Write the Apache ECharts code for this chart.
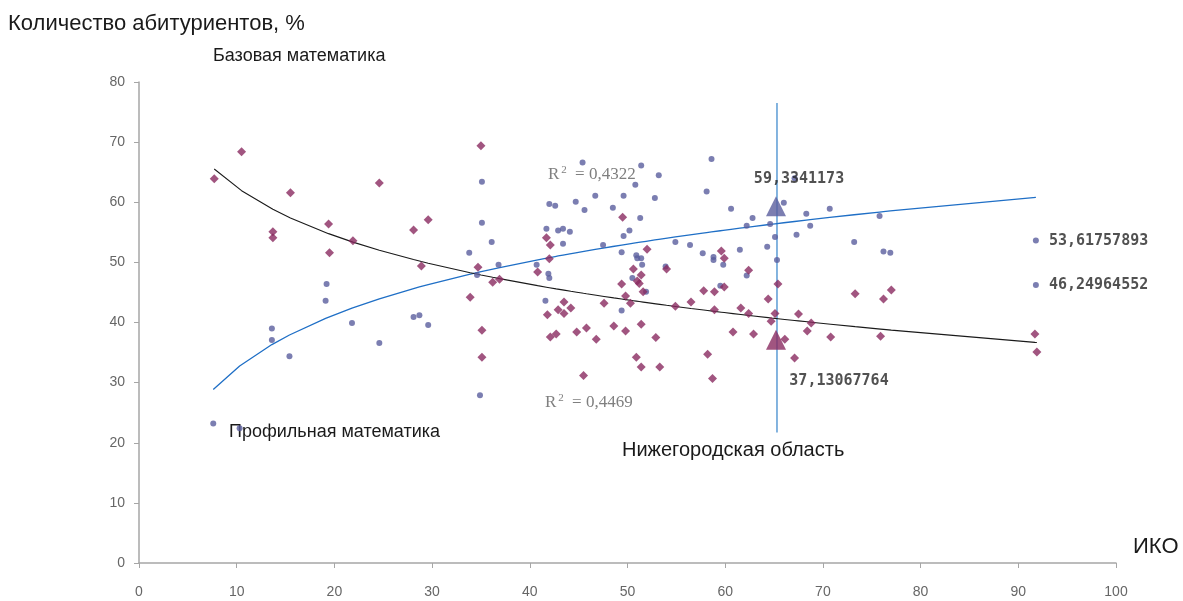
<!DOCTYPE html>
<html>
<head>
<meta charset="utf-8">
<script src="https://cdn.jsdelivr.net/npm/echarts@6/dist/echarts.min.js"></script>
<style>
  html, body { margin: 0; padding: 0; background: #fff; }
  #main { width: 1183px; height: 601px; }
</style>
</head>
<body>
<div id="main"></div>
<script>
// Профильная математика: [ИКО, %]
const profilePoints = [
  [7.6, 23.2], [10.3, 22.4], [13.6, 39.0], [13.6, 37.1], [15.4, 34.4], [19.2, 46.4],
  [19.1, 43.6], [21.8, 39.9], [24.6, 36.6], [28.1, 40.9], [28.7, 41.2], [29.6, 39.6],
  [33.8, 51.6], [35.1, 63.4], [35.1, 56.6], [34.9, 27.9], [36.1, 53.4], [36.8, 49.6],
  [34.6, 47.9], [45.4, 66.6], [46.7, 61.1], [44.7, 60.1], [45.6, 58.7], [42.0, 59.7],
  [42.6, 59.4], [41.7, 55.6], [42.9, 55.3], [43.4, 55.6], [44.1, 55.1], [43.4, 53.1],
  [40.7, 49.6], [41.9, 48.1], [42.0, 47.4], [41.6, 43.6], [51.4, 66.1], [53.2, 64.5],
  [58.6, 67.2], [50.8, 62.9], [58.1, 61.8], [49.6, 61.1], [52.8, 60.7], [48.5, 59.1],
  [51.3, 57.4], [60.6, 58.9], [62.8, 57.4], [62.2, 56.1], [64.6, 56.4], [66.0, 59.9],
  [67.1, 64.0], [68.3, 58.1], [70.7, 58.9], [68.7, 56.1], [67.3, 54.6], [65.1, 54.2],
  [64.3, 52.6], [65.3, 50.4], [47.5, 52.9], [49.6, 54.4], [50.2, 55.3], [49.4, 51.7],
  [50.9, 51.2], [51.0, 50.7], [51.4, 50.7], [51.5, 49.6], [50.5, 47.4], [51.9, 45.1],
  [49.4, 42.0], [54.9, 53.4], [56.4, 52.9], [57.7, 51.5], [58.8, 50.9], [58.8, 50.4],
  [59.8, 49.6], [61.5, 52.1], [62.2, 47.8], [53.9, 49.3], [59.5, 46.1], [73.2, 53.4],
  [75.8, 57.7], [76.2, 51.8], [76.9, 51.6]
];
// подписанные точки профильной математики
const profileTagged = [[91.8, 53.61757893], [91.8, 46.24964552]];

// Базовая математика: [ИКО, %]
const basePoints = [
  [7.7, 63.9], [10.5, 68.4], [13.7, 55.1], [13.7, 54.1], [15.5, 61.6], [19.4, 56.4],
  [19.5, 51.6], [21.9, 53.6], [24.6, 63.2], [28.1, 55.4], [29.6, 57.1], [28.9, 49.4],
  [33.9, 44.2], [34.7, 49.2], [35.0, 69.4], [35.1, 38.7], [35.1, 34.2], [36.2, 46.7],
  [36.9, 47.2], [40.8, 48.4], [41.7, 54.1], [42.1, 52.9], [42.0, 50.6], [41.8, 41.3],
  [42.9, 42.1], [43.5, 43.4], [43.5, 41.5], [44.2, 42.4], [42.1, 37.6], [42.7, 38.1],
  [44.8, 38.4], [45.8, 39.1], [46.8, 37.2], [45.5, 31.2], [47.6, 43.2], [48.6, 39.4],
  [49.5, 57.5], [49.4, 46.4], [49.8, 44.4], [49.8, 38.6], [50.3, 43.2], [50.6, 48.9],
  [51.4, 47.9], [51.0, 46.9], [51.2, 46.5], [51.6, 45.1], [51.4, 39.7], [50.9, 34.2],
  [51.4, 32.6], [52.0, 52.2], [52.9, 37.5], [53.3, 32.6], [54.0, 48.9], [54.9, 42.7],
  [56.5, 43.4], [57.8, 45.3], [58.9, 45.1], [58.9, 42.1], [58.2, 34.7], [58.7, 30.7],
  [59.6, 51.9], [59.9, 50.7], [59.9, 45.9], [60.8, 38.4], [61.6, 42.4], [62.4, 41.5],
  [62.4, 48.7], [62.9, 38.1], [64.4, 43.9], [65.1, 41.5], [64.7, 40.2], [65.4, 46.4],
  [66.1, 37.2], [67.5, 41.4], [68.8, 39.9], [68.4, 38.6], [70.8, 37.6], [67.1, 34.1],
  [73.3, 44.8], [76.2, 43.9], [77.0, 45.4], [75.9, 37.7], [91.7, 38.1], [91.9, 35.1]
];

// Нижегородская область
const regionIko = 65.2;
const regionProfile = 59.3341173;
const regionBase = 37.13067764;
const regionLineRange = [21.7, 76.5];

const r2Profile = '0,4322';
const r2Base = '0,4469';

const xTicks = { min: 0, max: 100, interval: 10 };
const yTicks = { min: 0, max: 80, interval: 10 };

// логарифмическая линия тренда по методу наименьших квадратов
function logFit(pts) {
  let n = pts.length, sx = 0, sy = 0, sxx = 0, sxy = 0;
  pts.forEach(p => {
    const lx = Math.log(p[0]);
    sx += lx; sy += p[1]; sxx += lx * lx; sxy += lx * p[1];
  });
  const a = (n * sxy - sx * sy) / (n * sxx - sx * sx);
  const b = (sy - a * sx) / n;
  const xs = pts.map(p => p[0]).sort((u, v) => u - v);
  return xs.map(x => [x, a * Math.log(x) + b]);
}

const allProfile = profilePoints.concat(profileTagged);
const profileTrend = logFit(allProfile);
const baseTrend = logFit(basePoints);

const commaFmt = v => String(v).replace('.', ',');
const numFont = { fontFamily: 'DejaVu Sans Mono', fontWeight: 'bold', fontSize: 15, color: '#262626' };
const r2Rich = {
  a: { fontSize: 17, fontFamily: 'Liberation Serif', fill: '#7f7f7f', color: '#7f7f7f' },
  s: { fontSize: 11, fontFamily: 'Liberation Serif', fill: '#7f7f7f', color: '#7f7f7f', verticalAlign: 'top', padding: [0, 4, 9, 2] }
};

const chart = echarts.init(document.getElementById('main'));
const option = {
  animation: false,
  backgroundColor: '#fff',
  grid: { left: 139, top: 82, width: 977, height: 481, containLabel: false },
  xAxis: {
    type: 'value', min: xTicks.min, max: xTicks.max, interval: xTicks.interval,
    splitLine: { show: false },
    axisLine: { show: true, lineStyle: { color: '#a6a6a6', width: 1.5 } },
    axisTick: { show: true, length: 5, lineStyle: { color: '#a6a6a6' } },
    axisLabel: { color: '#666', fontSize: 14, fontFamily: 'Liberation Sans', margin: 22 }
  },
  yAxis: {
    type: 'value', min: yTicks.min, max: yTicks.max, interval: yTicks.interval,
    splitLine: { show: false },
    axisLine: { show: true, lineStyle: { color: '#a6a6a6', width: 1.5 } },
    axisTick: { show: true, length: 5, lineStyle: { color: '#a6a6a6' } },
    axisLabel: { color: '#666', fontSize: 14, fontFamily: 'Liberation Sans', margin: 14 }
  },
  series: [
    {
      type: 'line', data: regionLineRange.map(v => [regionIko + 0.1, v]),
      showSymbol: false, lineStyle: { color: '#5b9bd5', width: 1.5 }, z: 1
    },
    {
      type: 'line', data: profileTrend, showSymbol: false,
      lineStyle: { color: '#1f6fc6', width: 1.3 }, z: 2
    },
    {
      type: 'line', data: baseTrend, showSymbol: false,
      lineStyle: { color: '#1a1a1a', width: 1.1 }, z: 2
    },
    {
      type: 'scatter', symbol: 'circle', symbolSize: 6,
      itemStyle: { color: '#5a5e9e' }, z: 3,
      data: profilePoints.map(p => p).concat(profileTagged.map(p => ({
        value: p,
        label: { show: true, position: 'right', distance: 10, formatter: () => commaFmt(p[1]), ...numFont }
      })))
    },
    {
      type: 'scatter', symbol: 'diamond', symbolSize: 9,
      itemStyle: { color: '#8a2a60' }, z: 3, data: basePoints
    },
    {
      type: 'scatter', symbol: 'triangle', symbolSize: [20, 20], z: 4,
      data: [
        {
          value: [regionIko, regionProfile], itemStyle: { color: '#5a5e9e' },
          label: { show: true, position: 'top', distance: 10, offset: [23, 0],
            formatter: () => commaFmt(regionProfile), ...numFont }
        },
        {
          value: [regionIko, regionBase], itemStyle: { color: '#8a2a60' },
          label: { show: true, position: 'bottom', distance: 24, offset: [63, 0],
            formatter: () => commaFmt(regionBase), ...numFont }
        }
      ]
    }
  ],
  graphic: [
    { type: 'text', left: 8, top: 13, style: { text: 'Количество абитуриентов, %', fontSize: 22, fontFamily: 'Liberation Sans', fill: '#1a1a1a' } },
    { type: 'text', left: 213, top: 47, style: { text: 'Базовая математика', fontSize: 18, fontFamily: 'Liberation Sans', fill: '#1a1a1a' } },
    { type: 'text', left: 229, top: 423, style: { text: 'Профильная математика', fontSize: 18, fontFamily: 'Liberation Sans', fill: '#1a1a1a' } },
    { type: 'text', left: 1133, top: 536, style: { text: 'ИКО', fontSize: 22, fontFamily: 'Liberation Sans', fill: '#1a1a1a' } },
    { type: 'text', left: 622, top: 440, style: { text: 'Нижегородская область', fontSize: 20, fontFamily: 'Liberation Sans Narrow, Liberation Sans', fill: '#1a1a1a' } },
    { type: 'text', left: 548, top: 165, style: { text: '{a|R}{s|2}{a| = ' + r2Profile + '}', rich: r2Rich } },
    { type: 'text', left: 545, top: 393, style: { text: '{a|R}{s|2}{a| = ' + r2Base + '}', rich: r2Rich } }
  ]
};
chart.setOption(option);
</script>
</body>
</html>
